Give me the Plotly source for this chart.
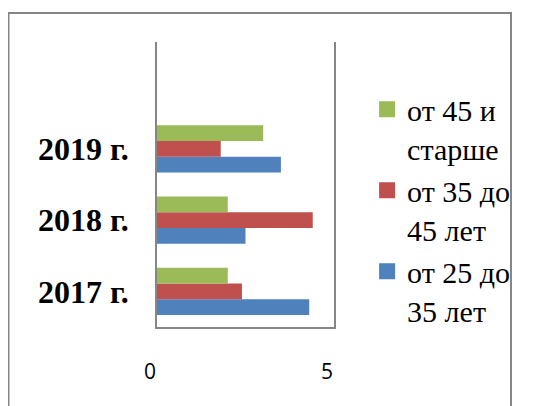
import plotly.graph_objects as go

categories = ["2017 г.", "2018 г.", "2019 г."]
series_names = ["от 25 до<br>35 лет", "от 35 до<br>45 лет", "от 45 и<br>старше"]
v_25_35 = [4.3, 2.5, 3.5]
v_35_45 = [2.4, 4.4, 1.8]
v_45_up = [2.0, 2.0, 3.0]
colors = ["#4F81BD", "#C0504D", "#9BBB59"]
x_ticks = [0, 5]

fig = go.Figure()
for name, vals, col in zip(series_names, [v_25_35, v_35_45, v_45_up], colors):
    fig.add_trace(go.Bar(y=categories, x=vals, name=name, orientation="h",
                         marker=dict(color=col, line=dict(width=0)),
                         legendgroup=name, showlegend=False))
# legend entries with larger square swatches
for name, col in zip(series_names, colors):
    fig.add_trace(go.Scatter(x=[None], y=[None], mode="markers", name=name,
                             legendgroup=name,
                             marker=dict(symbol="square", size=16, color=col)))

grid = "#868686"
serif = "Liberation Serif"
# page body has an 8px margin, so the figure is offset by 8px
fig.update_layout(
    width=541, height=406,
    font=dict(family=serif, color="black"),
    margin=dict(l=149, r=215, t=34, b=87, autoexpand=False),
    paper_bgcolor="white", plot_bgcolor="white",
    barmode="group", bargap=0.34, bargroupgap=0,
    showlegend=True,
    legend=dict(x=1.187, y=0.855, xanchor="left", yanchor="top",
                traceorder="reversed", valign="top", tracegroupgap=0,
                font=dict(family=serif, size=30, color="black"),
                bgcolor="rgba(0,0,0,0)"),
    xaxis=dict(range=[0, 5], tickvals=x_ticks, showgrid=True, gridcolor=grid,
               gridwidth=1.5, zeroline=False, showline=True, linecolor=grid,
               linewidth=1.5, ticks="", ticklabelstandoff=25, ticklabelshift=-7,
               tickfont=dict(family="Open Sans", size=21, color="black")),
    yaxis=dict(type="category", range=[-0.5, 3.5], showgrid=False,
               showline=True, mirror=True, linecolor=grid, linewidth=1.5,
               ticks="", ticklabelstandoff=20,
               tickfont=dict(family=serif, size=32, color="black",
                             weight="bold"),
               ),
    shapes=[dict(type="rect", xref="paper", yref="paper",
                 x0=-0.839, x1=2.0, y0=-1.0, y1=1.102,
                 line=dict(color=grid, width=2), fillcolor="rgba(0,0,0,0)",
                 layer="below")],
)
fig.write_html("out.html")
